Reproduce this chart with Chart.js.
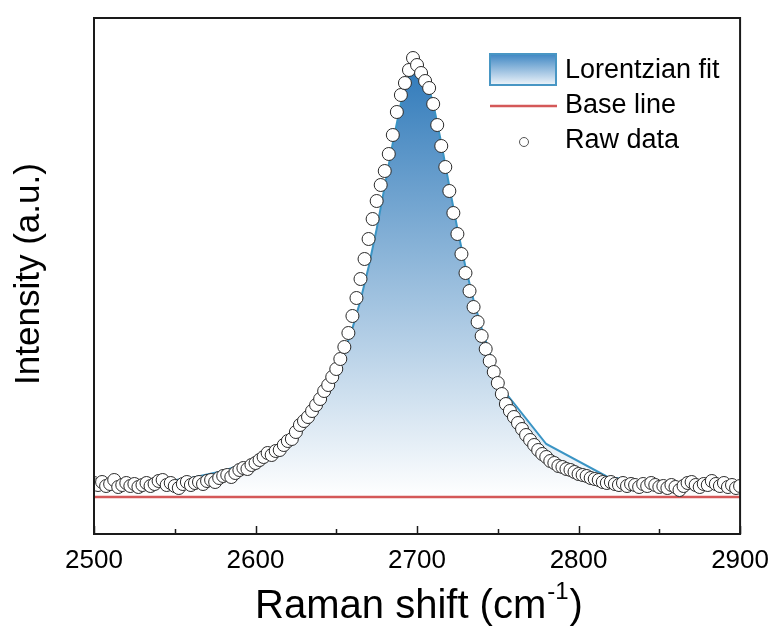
<!DOCTYPE html>
<html>
<head>
<meta charset="utf-8">
<script src="https://cdn.jsdelivr.net/npm/chart.js@4.4.1/dist/chart.umd.min.js"></script>
<style>
  html, body { margin: 0; padding: 0; background: #fff; }
  canvas { display: block; }
</style>
</head>
<body>
<canvas id="ramanChart" width="780" height="639"></canvas>
<script>
// raw spectrum (Raman shift in cm-1, intensity in a.u. above the base line)
const rawShift = [
  2500, 2502.5, 2505, 2507.5, 2510, 2512.5, 2515, 2517.5, 2520, 2522.5,
  2525, 2527.5, 2530, 2532.5, 2535, 2537.5, 2540, 2542.5, 2545, 2547.5,
  2550, 2552.5, 2555, 2557.5, 2560, 2562.5, 2565, 2567.5, 2570, 2572.5,
  2575, 2577.5, 2580, 2582.5, 2585, 2587.5, 2590, 2592.5, 2595, 2597.5,
  2600, 2602.5, 2605, 2607.5, 2610, 2612.5, 2615, 2617.5, 2620, 2622.5,
  2625, 2627.5, 2630, 2632.5, 2635, 2637.5, 2640, 2642.5, 2645, 2647.5,
  2650, 2652.5, 2655, 2657.5, 2660, 2662.5, 2665, 2667.5, 2670, 2672.5,
  2675, 2677.5, 2680, 2682.5, 2685, 2687.5, 2690, 2692.5, 2695, 2697.5,
  2700, 2702.5, 2705, 2707.5, 2710, 2712.5, 2715, 2717.5, 2720, 2722.5,
  2725, 2727.5, 2730, 2732.5, 2735, 2737.5, 2740, 2742.5, 2745, 2747.5,
  2750, 2752.5, 2755, 2757.5, 2760, 2762.5, 2765, 2767.5, 2770, 2772.5,
  2775, 2777.5, 2780, 2782.5, 2785, 2787.5, 2790, 2792.5, 2795, 2797.5,
  2800, 2802.5, 2805, 2807.5, 2810, 2812.5, 2815, 2817.5, 2820, 2822.5,
  2825, 2827.5, 2830, 2832.5, 2835, 2837.5, 2840, 2842.5, 2845, 2847.5,
  2850, 2852.5, 2855, 2857.5, 2860, 2862.5, 2865, 2867.5, 2870, 2872.5,
  2875, 2877.5, 2880, 2882.5, 2885, 2887.5, 2890, 2892.5, 2895, 2897.5,
  2900
]
const rawIntensity = [
  14, 12, 15, 11, 13, 17, 10, 12, 14, 11,
  13, 10, 12, 14, 11, 13, 16, 17, 12, 14,
  11, 9, 13, 15, 12, 14, 15, 13, 16, 17,
  15, 19, 21, 22, 20, 24, 27, 29, 28, 32,
  34, 37, 40, 44, 42, 46, 47, 52, 56, 58,
  65, 72, 76, 80, 86, 92, 98, 106, 112, 120,
  128, 138, 150, 164, 181, 199, 218, 238, 258, 278,
  296, 312, 326, 343, 362, 385, 402, 414, 427, 439,
  432, 424, 416, 409, 393, 372, 351, 330, 306, 284,
  263, 243, 224, 206, 190, 175, 161, 148, 136, 125,
  114, 103, 93, 86, 80, 74, 68, 62, 57, 52,
  47, 43, 40, 36, 34, 31, 30, 28, 27, 25,
  23, 22, 21, 19, 18, 17, 15, 14, 15, 13,
  12, 14, 11, 13, 12, 10, 13, 11, 14, 12,
  10, 11, 9, 12, 10, 7, 11, 14, 15, 12,
  10, 13, 12, 16, 13, 11, 14, 10, 12, 9,
  11
]

// Lorentzian fit curve
const fitShift = [
  2500, 2520, 2540, 2560, 2580, 2600, 2610, 2620, 2630, 2640,
  2645, 2650, 2655, 2660, 2665, 2670, 2675, 2680, 2685, 2690,
  2695, 2700, 2705, 2710, 2715, 2720, 2725, 2730, 2735, 2740,
  2746, 2752, 2780, 2818, 2840, 2860, 2880, 2900
]
const fitIntensity = [
  9.5, 11.7, 14.7, 19.0, 26, 37, 45, 56, 71, 92,
  106, 124, 145, 168.6, 196.7, 230, 268, 310.6, 354, 393.6,
  421.7, 432, 421.7, 393.6, 354, 310.6, 268, 230, 196.7, 168.6,
  139, 110, 53, 20, 15.5, 12.5, 10.5, 9.5
]

const baseShift = [2500, 2900]
const baseIntensity = [0, 0]

const majorTicks = [2500, 2600, 2700, 2800, 2900]
const minorTicks = [2550, 2650, 2750, 2850]

const FONT = "'Liberation Sans', Arial, sans-serif"

const toPoints = (xs, ys) => xs.map((x, i) => ({ x, y: ys[i] }))

const decor = {
  id: 'decor',
  afterDatasetsDraw(chart) {
    const { ctx, chartArea: a, scales } = chart
    ctx.save()

    // inward ticks on the bottom axis
    ctx.strokeStyle = '#1a1a1a'
    ctx.lineWidth = 1.5
    majorTicks.forEach((v) => {
      const x = Math.round(scales.x.getPixelForValue(v)) + 0.5
      ctx.beginPath()
      ctx.moveTo(x, a.bottom)
      ctx.lineTo(x, a.bottom - 8)
      ctx.stroke()
    })
    minorTicks.forEach((v) => {
      const x = Math.round(scales.x.getPixelForValue(v)) + 0.5
      ctx.beginPath()
      ctx.moveTo(x, a.bottom)
      ctx.lineTo(x, a.bottom - 5)
      ctx.stroke()
    })

    // frame
    ctx.lineWidth = 2
    ctx.strokeRect(a.left, a.top, a.right - a.left, a.bottom - a.top)

    // legend
    const g = ctx.createLinearGradient(0, 54, 0, 85)
    g.addColorStop(0, 'rgb(62,134,195)')
    g.addColorStop(1, 'rgb(238,244,250)')
    ctx.fillStyle = g
    ctx.fillRect(490, 54, 66, 31)
    ctx.strokeStyle = 'rgb(72,150,196)'
    ctx.lineWidth = 2
    ctx.strokeRect(490, 54, 66, 31)

    ctx.strokeStyle = 'rgb(212,88,88)'
    ctx.lineWidth = 2.5
    ctx.beginPath()
    ctx.moveTo(490, 106)
    ctx.lineTo(557, 106)
    ctx.stroke()

    ctx.beginPath()
    ctx.arc(524, 142, 4.5, 0, Math.PI * 2)
    ctx.fillStyle = '#fff'
    ctx.fill()
    ctx.strokeStyle = '#555'
    ctx.lineWidth = 1
    ctx.stroke()

    ctx.fillStyle = '#000'
    ctx.font = `27px ${FONT}`
    ctx.textAlign = 'left'
    ctx.textBaseline = 'middle'
    ctx.fillText('Lorentzian fit', 565, 71)
    ctx.fillText('Base line', 565, 106)
    ctx.fillText('Raw data', 565, 141)

    // y title
    ctx.save()
    ctx.translate(29, 274)
    ctx.rotate(-Math.PI / 2)
    ctx.font = `35px ${FONT}`
    ctx.textAlign = 'center'
    ctx.fillText('Intensity (a.u.)', 0, 0)
    ctx.restore()

    // x title with superscript
    const main = 'Raman shift (cm'
    const sup = '-1'
    const close = ')'
    ctx.font = `40px ${FONT}`
    const w1 = ctx.measureText(main).width
    const w3 = ctx.measureText(close).width
    ctx.font = `24px ${FONT}`
    const w2 = ctx.measureText(sup).width
    const x0 = 418 - (w1 + w2 + w3) / 2
    const y0 = 607
    ctx.textAlign = 'left'
    ctx.font = `40px ${FONT}`
    ctx.fillText(main, x0, y0)
    ctx.font = `24px ${FONT}`
    ctx.fillText(sup, x0 + w1 + 1, y0 - 15)
    ctx.font = `40px ${FONT}`
    ctx.fillText(close, x0 + w1 + w2 + 2, y0)

    ctx.restore()
  },
}

new Chart(document.getElementById('ramanChart'), {
  type: 'scatter',
  data: {
    datasets: [
      {
        label: 'Raw data',
        data: toPoints(rawShift, rawIntensity),
        pointRadius: 6.5,
        pointBackgroundColor: '#fff',
        pointBorderColor: '#2a2a2a',
        pointBorderWidth: 1,
        order: 0,
      },
      {
        label: 'Base line',
        type: 'line',
        data: toPoints(baseShift, baseIntensity),
        borderColor: 'rgb(212,88,88)',
        borderWidth: 2.5,
        pointRadius: 0,
        order: 1,
      },
      {
        label: 'Lorentzian fit',
        type: 'line',
        data: toPoints(fitShift, fitIntensity),
        borderColor: 'rgb(58,148,196)',
        borderWidth: 2,
        pointRadius: 0,
        tension: 0,
        fill: 'origin',
        backgroundColor: (context) => {
          const { chart } = context
          const { ctx, chartArea, scales } = chart
          if (!chartArea) return 'rgba(60,130,190,0.5)'
          const g = ctx.createLinearGradient(
            0,
            scales.y.getPixelForValue(432),
            0,
            scales.y.getPixelForValue(0)
          )
          g.addColorStop(0, 'rgb(48,122,186)')
          g.addColorStop(1, 'rgb(255,255,255)')
          return g
        },
        order: 2,
      },
    ],
  },
  options: {
    responsive: false,
    animation: false,
    devicePixelRatio: 1,
    layout: { padding: { left: 94, right: 38, top: 18, bottom: 0 } },
    plugins: {
      legend: { display: false },
      tooltip: { enabled: false },
    },
    scales: {
      x: {
        type: 'linear',
        min: 2500,
        max: 2900,
        afterBuildTicks: (scale) => {
          scale.ticks = majorTicks.map((v) => ({ value: v }))
        },
        afterFit: (scale) => {
          scale.height = 105
        },
        grid: { display: false, drawTicks: false },
        border: { display: false },
        ticks: {
          color: '#000',
          font: { family: FONT, size: 26 },
          padding: 11,
          maxRotation: 0,
          callback: (v) => String(v),
        },
      },
      y: {
        display: false,
        min: -37,
        max: 479,
      },
    },
  },
  plugins: [decor],
})
</script>
</body>
</html>
